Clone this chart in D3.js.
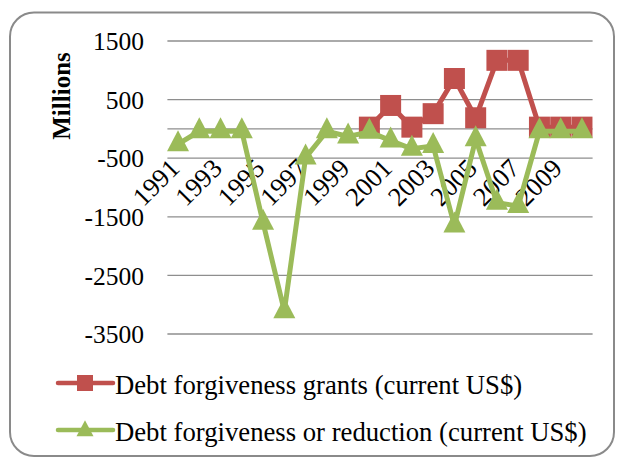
<!DOCTYPE html>
<html>
<head>
<meta charset="utf-8">
<script src="https://cdn.jsdelivr.net/npm/d3@7"></script>
<style>
  html, body { margin: 0; padding: 0; background: #fff; }
  svg { display: block; }
  text { font-family: "Liberation Serif", "Times New Roman", serif; fill: #000; }
</style>
</head>
<body>
<svg id="chart" width="625" height="459"></svg>
<script>
const years = ["1991","1992","1993","1994","1995","1996","1997","1998","1999","2000",
               "2001","2002","2003","2004","2005","2006","2007","2008","2009","2010"];
const yearLabels = ["1991","1993","1995","1997","1999","2001","2003","2005","2007","2009"];
const grants = [null,null,null,null,null,null,null,null,null,30,
                400,30,260,860,190,1170,1170,30,30,30];
const reduction = [-260,-40,-40,-40,-1600,-3110,-490,-40,-130,-50,
                   -200,-340,-290,-1650,-175,-1260,-1315,-40,-40,-40];
const yTicks = [1500,500,-500,-1500,-2500,-3500];
const seriesNames = ["Debt forgiveness grants (current US$)",
                     "Debt forgiveness or reduction (current US$)"];

const RED = "#C0504D", GREEN = "#9BBB59", GRID = "#8e8e8e";

const svg = d3.select("#chart");

// outer rounded border
svg.append("rect")
  .attr("x", 10).attr("y", 12.5).attr("width", 604).attr("height", 443.5)
  .attr("rx", 24).attr("ry", 24)
  .attr("fill", "#fff").attr("stroke", "#8a8a8a").attr("stroke-width", 2);

const x = d3.scaleBand().domain(years).range([167.4, 592.6]);
const y = d3.scaleLinear().domain([-3500, 1500]).range([334, 41]);
const cx = d => x(d) + x.bandwidth() / 2;

// gridlines
svg.append("g").selectAll("line").data(yTicks).join("line")
  .attr("x1", x.range()[0]).attr("x2", x.range()[1])
  .attr("y1", d => y(d)).attr("y2", d => y(d))
  .attr("stroke", GRID).attr("stroke-width", 1.3);

// category axis at zero
svg.append("line")
  .attr("x1", x.range()[0]).attr("x2", x.range()[1])
  .attr("y1", y(0)).attr("y2", y(0))
  .attr("stroke", GRID).attr("stroke-width", 1.3);

// y tick labels via d3 axis (plain hyphen minus as in the original)
const yAxis = d3.axisLeft(y).tickValues(yTicks).tickSize(0).tickPadding(0)
  .tickFormat(d => String(d));
const gy = svg.append("g").attr("transform", "translate(144,0)").call(yAxis);
gy.select(".domain").remove();
gy.selectAll("text")
  .attr("font-family", "Liberation Serif, serif")
  .attr("font-size", 25.5).attr("fill", "#000")
  .attr("dy", "0.34em");

// y title
svg.append("text")
  .attr("transform", "translate(70,96) rotate(-90)")
  .attr("text-anchor", "middle")
  .attr("font-size", 25).attr("font-weight", "bold")
  .text("Millions");

// x labels
svg.append("g").selectAll("text").data(yearLabels).join("text")
  .attr("transform", d => `translate(${cx(d) + 3},${y(0) + 41}) rotate(-45)`)
  .attr("text-anchor", "end")
  .attr("font-size", 26.5)
  .text(d => d);

// lines
const line = d3.line()
  .defined(d => d.v !== null)
  .x(d => cx(d.year)).y(d => y(d.v));

const gData = years.map((yr, i) => ({year: yr, v: grants[i]}));
const rData = years.map((yr, i) => ({year: yr, v: reduction[i]}));

svg.append("path").datum(gData).attr("d", line)
  .attr("fill", "none").attr("stroke", RED).attr("stroke-width", 5)
  .attr("stroke-linejoin", "round");
svg.append("g").selectAll("rect").data(gData.filter(d => d.v !== null)).join("rect")
  .attr("x", d => cx(d.year) - 10.5).attr("y", d => y(d.v) - 10.5)
  .attr("width", 21).attr("height", 21).attr("fill", RED);

const triPath = (w, h) => {
  const p = d3.path();
  p.moveTo(0, -h * 2 / 3);
  p.lineTo(w / 2, h / 3);
  p.lineTo(-w / 2, h / 3);
  p.closePath();
  return p.toString();
};

svg.append("path").datum(rData).attr("d", line)
  .attr("fill", "none").attr("stroke", GREEN).attr("stroke-width", 5)
  .attr("stroke-linejoin", "round");
svg.append("g").selectAll("path").data(rData).join("path")
  .attr("transform", d => `translate(${cx(d.year)},${y(d.v)})`)
  .attr("d", triPath(22, 21)).attr("fill", GREEN);

// legend
const legY = [383, 430];
const lg = svg.append("g");
lg.append("line").attr("x1", 58).attr("x2", 113).attr("y1", legY[0]).attr("y2", legY[0])
  .attr("stroke", RED).attr("stroke-width", 4.5).attr("stroke-linecap", "round");
lg.append("rect").attr("x", 77).attr("y", legY[0] - 8).attr("width", 16).attr("height", 16)
  .attr("fill", RED);
lg.append("line").attr("x1", 58).attr("x2", 113).attr("y1", legY[1]).attr("y2", legY[1])
  .attr("stroke", GREEN).attr("stroke-width", 4.5).attr("stroke-linecap", "round");
lg.append("path").attr("transform", `translate(85,${legY[1] + 1})`)
  .attr("d", triPath(17, 16)).attr("fill", GREEN);
lg.selectAll("text").data(seriesNames).join("text")
  .attr("x", 115).attr("y", (d, i) => legY[i] + 11)
  .attr("font-size", 26.7)
  .text(d => d);
</script>
</body>
</html>
